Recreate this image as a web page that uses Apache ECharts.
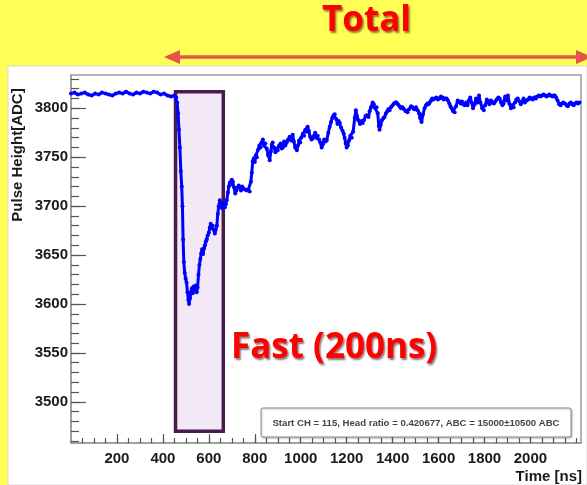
<!DOCTYPE html>
<html>
<head>
<meta charset="utf-8">
<script src="https://cdn.jsdelivr.net/npm/echarts@6/dist/echarts.min.js"></script>
<style>
  html, body { margin: 0; padding: 0; background: #FFFF55; }
  #chart { width: 587px; height: 485px; }
</style>
</head>
<body>
<div id="chart"></div>
<script>
// Sampled pulse waveform: time [ns] and pulse height [ADC]
const timeNs = [
  0, 15, 30, 45, 60, 75, 90, 105, 120, 135,
  150, 165, 180, 195, 210, 225, 240, 255, 270, 285,
  300, 315, 330, 345, 360, 375, 390, 405, 420, 435,
  450, 458, 462, 466, 470, 474, 478, 482, 485, 488,
  491, 495, 499, 503, 507, 511, 514, 518, 522, 526,
  530, 534, 538, 543, 547, 551, 555, 559, 563, 567,
  571, 575, 579, 583, 587, 591, 595, 600, 604, 608,
  612, 617, 621, 626, 630, 635, 639, 643, 648, 652,
  657, 661, 665, 670, 674, 678, 683, 687, 691, 696,
  700, 705, 710, 715, 720, 725, 730, 735, 740, 745,
  750, 757, 765, 772, 778, 783, 787, 791, 796, 800,
  805, 809, 815, 820, 825, 830, 835, 840, 846, 852,
  858, 865, 870, 874, 878, 884, 890, 895, 900, 906,
  912, 917, 922, 928, 933, 939, 945, 952, 958, 965,
  970, 976, 983, 988, 993, 998, 1002, 1009, 1015, 1020,
  1025, 1030, 1035, 1041, 1047, 1052, 1058, 1063, 1068, 1074,
  1080, 1085, 1091, 1096, 1102, 1107, 1113, 1120, 1126, 1132,
  1137, 1143, 1148, 1155, 1160, 1165, 1170, 1176, 1182, 1187,
  1191, 1196, 1200, 1205, 1210, 1216, 1222, 1228, 1235, 1240,
  1245, 1250, 1258, 1265, 1270, 1276, 1282, 1288, 1295, 1300,
  1306, 1313, 1318, 1324, 1330, 1335, 1340, 1343, 1348, 1354,
  1360, 1365, 1371, 1377, 1382, 1387, 1393, 1400, 1406, 1412,
  1417, 1423, 1430, 1436, 1443, 1450, 1457, 1465, 1472, 1480,
  1487, 1494, 1502, 1509, 1515, 1520, 1526, 1532, 1539, 1545,
  1551, 1556, 1561, 1567, 1572, 1578, 1583, 1590, 1597, 1604,
  1610, 1617, 1622, 1628, 1635, 1641, 1647, 1652, 1657, 1663,
  1670, 1676, 1683, 1690, 1696, 1702, 1708, 1713, 1720, 1726,
  1732, 1738, 1744, 1750, 1757, 1763, 1770, 1776, 1782, 1790,
  1797, 1803, 1810, 1816, 1822, 1828, 1835, 1841, 1847, 1853,
  1860, 1866, 1872, 1878, 1883, 1890, 1896, 1902, 1908, 1915,
  1921, 1927, 1933, 1939, 1945, 1952, 1958, 1964, 1970, 1976,
  1983, 1990, 1996, 2003, 2010, 2017, 2024, 2030, 2037, 2044,
  2050, 2057, 2063, 2070, 2076, 2082, 2088, 2095, 2100, 2106,
  2112, 2118, 2125, 2131, 2137, 2143, 2150, 2157, 2163, 2170,
  2176, 2182, 2188, 2195, 2200, 2207, 2213
];
const pulseAdc = [
  3815, 3816, 3814, 3815, 3816, 3814, 3813, 3815, 3814, 3816,
  3815, 3814, 3813, 3815, 3816, 3815, 3817, 3815, 3814, 3816,
  3815, 3817, 3816, 3815, 3817, 3816, 3814, 3815, 3813, 3812,
  3813, 3811, 3806, 3795, 3778, 3760, 3736, 3720, 3700, 3666,
  3643, 3632, 3626, 3622, 3612, 3604, 3600, 3606, 3612, 3616,
  3611, 3618, 3614, 3619, 3612, 3617, 3630, 3640, 3646, 3652,
  3656, 3651, 3657, 3660, 3664, 3666, 3670, 3673, 3678, 3682,
  3678, 3680, 3676, 3672, 3676, 3680, 3692, 3700, 3706, 3702,
  3698, 3703, 3700, 3699, 3702, 3706, 3714, 3720, 3724, 3722,
  3727, 3725, 3719, 3713, 3716, 3719, 3721, 3719, 3716, 3720,
  3718, 3717, 3716, 3717, 3715, 3725, 3734, 3746, 3749, 3745,
  3752, 3750, 3758, 3762, 3760, 3765, 3768, 3762, 3764, 3759,
  3752, 3747, 3756, 3763, 3765, 3760, 3755, 3758, 3757, 3762,
  3764, 3759, 3760, 3766, 3762, 3765, 3768, 3771, 3767, 3773,
  3766, 3760, 3757, 3762, 3767, 3765, 3770, 3774, 3772, 3778,
  3776, 3781, 3777, 3771, 3768, 3769, 3772, 3775, 3770, 3772,
  3768, 3765, 3760, 3763, 3768, 3766, 3767, 3775, 3781, 3786,
  3790, 3793, 3794, 3789, 3784, 3787, 3785, 3780, 3777, 3774,
  3770, 3764, 3760, 3762, 3767, 3772, 3770, 3776, 3790, 3798,
  3792, 3788, 3784, 3787, 3785, 3788, 3792, 3793, 3791, 3797,
  3801, 3806, 3804, 3800, 3801, 3795, 3782, 3778, 3783, 3788,
  3790, 3791, 3795, 3797, 3799, 3798, 3801, 3803, 3805, 3806,
  3806, 3804, 3802, 3800, 3801, 3799, 3797, 3796, 3799, 3802,
  3801, 3799, 3801, 3798, 3795, 3790, 3786, 3794, 3800, 3803,
  3805, 3804, 3806, 3808, 3810, 3809, 3810, 3811, 3809, 3810,
  3812, 3811, 3809, 3810, 3810, 3808, 3805, 3802, 3800, 3797,
  3796, 3802, 3808, 3807, 3805, 3807, 3804, 3803, 3806, 3803,
  3808, 3811, 3806, 3800, 3804, 3810, 3806, 3813, 3806, 3800,
  3798, 3803, 3809, 3806, 3804, 3808, 3806, 3805, 3807, 3809,
  3811, 3810, 3806, 3803, 3805, 3812, 3808, 3813, 3805, 3800,
  3803, 3801, 3806, 3809, 3810, 3807, 3804, 3807, 3810, 3806,
  3808, 3809, 3811, 3810, 3809, 3811, 3810, 3812, 3813, 3812,
  3813, 3814, 3813, 3812, 3813, 3814, 3813, 3812, 3813, 3813,
  3811, 3808, 3804, 3803, 3805, 3806, 3805, 3803, 3802, 3805,
  3806, 3804, 3803, 3805, 3806, 3805, 3806
];

// Axis ranges and labelled ticks
const timeRange = [0, 2220];
const adcRange = [3458, 3834];
const timeTickLabels = [200, 400, 600, 800, 1000, 1200, 1400, 1600, 1800, 2000];
const adcTickLabels = [3500, 3550, 3600, 3650, 3700, 3750, 3800];

// Fast-component window (time from/to, height from/to)
const fastWindow = { t0: 455, t1: 663, v0: 3470, v1: 3817 };

const statText = 'Start CH = 115, Head ratio = 0.420677, ABC = 15000\u00b110500 ABC';

// Minor tick positions
const timeMinor = [];
for (let t = 50; t <= 2200; t += 50) timeMinor.push(t);
const adcMinor = [];
for (let v = 3460; v <= 3830; v += 10) adcMinor.push(v);

const points = timeNs.map((t, i) => [t, pulseAdc[i]]);

const axisGray = '#9a9a9a';
const tickColor = '#555';
const labelFont = {
  color: '#1a1a1a', fontSize: 15, fontWeight: 'bold',
  fontFamily: 'Liberation Sans, Arial, sans-serif',
  formatter: (v) => String(v)
};

const chart = echarts.init(document.getElementById('chart'), null, { renderer: 'canvas' });

chart.setOption({
  animation: false,
  backgroundColor: '#FFFF55',
  grid: {
    left: 71, right: 6, top: 75, bottom: 42,
    show: true, borderColor: axisGray, borderWidth: 1.5, backgroundColor: 'transparent'
  },
  xAxis: [
    {
      type: 'value', min: timeRange[0], max: timeRange[1],
      axisLine: { show: true, lineStyle: { color: axisGray, width: 1.5 } },
      splitLine: { show: false },
      axisTick: { show: true, inside: true, length: 9, customValues: timeTickLabels, lineStyle: { color: tickColor, width: 1.2 } },
      axisLabel: { show: true, margin: 8, customValues: timeTickLabels, ...labelFont }
    },
    {
      type: 'value', min: timeRange[0], max: timeRange[1], position: 'bottom',
      axisLine: { show: false }, splitLine: { show: false },
      axisTick: { show: true, inside: true, length: 5, customValues: timeMinor, lineStyle: { color: tickColor, width: 1.2 } },
      axisLabel: { show: false }
    }
  ],
  yAxis: [
    {
      type: 'value', min: adcRange[0], max: adcRange[1],
      axisLine: { show: true, lineStyle: { color: axisGray, width: 1.5 } },
      splitLine: { show: false },
      axisTick: { show: true, inside: true, length: 15, customValues: adcTickLabels, lineStyle: { color: tickColor, width: 1.2 } },
      axisLabel: { show: true, margin: 3, customValues: adcTickLabels, ...labelFont }
    },
    {
      type: 'value', min: adcRange[0], max: adcRange[1], position: 'left',
      axisLine: { show: false }, splitLine: { show: false },
      axisTick: { show: true, inside: true, length: 8, customValues: adcMinor, lineStyle: { color: tickColor, width: 1.2 } },
      axisLabel: { show: false }
    }
  ],
  series: [
    {
      type: 'line',
      data: points,
      xAxisIndex: 0, yAxisIndex: 0,
      symbol: 'circle', symbolSize: 4, showAllSymbol: true,
      lineStyle: { color: '#0000FF', width: 3 },
      itemStyle: { color: '#0000FF' },
      z: 5,
      markArea: {
        silent: true,
        itemStyle: { color: '#F3E8F6', borderColor: '#4A1A4C', borderWidth: 3.5 },
        data: [[
          { xAxis: fastWindow.t0, yAxis: fastWindow.v1 },
          { xAxis: fastWindow.t1, yAxis: fastWindow.v0 }
        ]]
      }
    }
  ],
  graphic: [
    // white panel behind the plot
    { type: 'rect', z: -10, shape: { x: 8, y: 66, width: 579, height: 419 },
      style: { fill: '#ffffff', stroke: '#d8d8d8', lineWidth: 1 } },
    // "Total" heading and span arrow
    { type: 'text', left: 322, top: 4, z: 10,
      style: { text: 'Total', fill: '#FF0000', font: 'bold 35px "Open Sans", sans-serif',
               textShadowColor: 'rgba(60,0,0,0.55)', textShadowOffsetX: 1.5, textShadowOffsetY: 1.5, textShadowBlur: 2 } },
    { type: 'line', z: 10, shape: { x1: 172, y1: 57, x2: 580, y2: 57 },
      style: { stroke: '#E5544C', lineWidth: 3.5 } },
    { type: 'polygon', z: 10, shape: { points: [[164, 57], [180, 50], [180, 64]] },
      style: { fill: '#E5544C' } },
    { type: 'polygon', z: 10, shape: { points: [[592, 57], [576, 50], [576, 64]] },
      style: { fill: '#E5544C' } },
    // fast window caption
    { type: 'text', left: 231, top: 331, z: 10,
      style: { text: 'Fast (200ns)', fill: '#FF0000', font: 'bold 35px "Open Sans", sans-serif',
               textShadowColor: 'rgba(60,0,0,0.55)', textShadowOffsetX: 1.5, textShadowOffsetY: 1.5, textShadowBlur: 2 } },
    // fit summary box
    { type: 'rect', z: 10, shape: { x: 261, y: 408, width: 310, height: 29, r: 2 },
      style: { fill: '#ffffff', stroke: '#8a8a8a', lineWidth: 1, shadowColor: 'rgba(0,0,0,0.25)', shadowBlur: 2, shadowOffsetX: 1, shadowOffsetY: 1 } },
    { type: 'text', z: 11, x: 416, y: 423,
      style: { text: statText, fill: '#444', font: 'bold 9.6px "Liberation Sans", Arial, sans-serif',
               align: 'center', verticalAlign: 'middle' } },
    // axis titles
    { type: 'text', z: 10, x: 582, y: 477,
      style: { text: 'Time [ns]', fill: '#1a1a1a', font: 'bold 15px "Liberation Sans", Arial, sans-serif',
               align: 'right', verticalAlign: 'middle' } },
    { type: 'text', z: 10, x: 18, y: 155, rotation: Math.PI / 2,
      style: { text: 'Pulse Height[ADC]', fill: '#1a1a1a', font: 'bold 15px "Liberation Sans", Arial, sans-serif',
               align: 'center', verticalAlign: 'middle' } }
  ]
});
</script>
</body>
</html>
